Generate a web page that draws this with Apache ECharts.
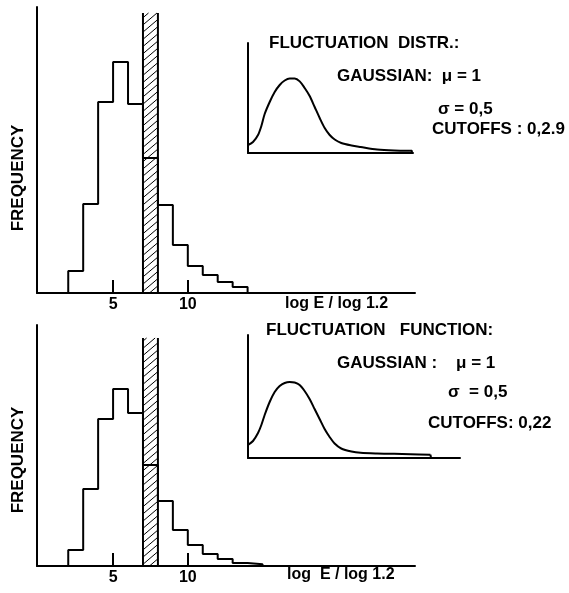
<!DOCTYPE html>
<html>
<head>
<meta charset="utf-8">
<script src="https://cdn.jsdelivr.net/npm/echarts@6/dist/echarts.min.js"></script>
<style>
html,body{margin:0;padding:0;background:#fff;}
#chart{width:569px;height:593px;}
</style>
</head>
<body>
<div id="chart"></div>
<script>
// ---- data ----
// histogram bin edges (log E / log 1.2) and frequencies (arbitrary units)
const binEdgesTop = [2,3,4,5,6,7,8,9,10,11,12,13,14];
const freqTop     = [22,89,191,231,189,135,88,48,27,18,11,6];
const binEdgesBot = [2,3,4,5,6,7,8,9,10,11,12,13,14,15];
const freqBot     = [16,77,147,177,153,101,65,36,21,12,7,3,1.7];
// hatched (excluded) band: [from, to, height]
const bandTop = [7, 8, 280];
const bandBot = [7, 8, 228];
const xTickValues = [5, 10];
// inset fluctuation curves
const insetXTop = [0,0.088,0.176,0.235,0.293,0.381,0.469,0.557,0.645,0.733,0.821,0.909,0.996,1.084,1.172,1.26,1.348,1.436,1.524,1.64,1.82,1.98,2.27,2.57,2.83];
const insetYTop = [8,11,18,27,39,51,61,68,72.5,74.5,74.5,71.6,65,57,46,35,25,18,13.5,10,7.5,6,3.5,2.5,2.3];
const cutoffTop = 2.88;
const insetXBot = [0,0.088,0.176,0.235,0.293,0.381,0.469,0.557,0.645,0.733,0.821,0.909,0.996,1.084,1.172,1.26,1.348,1.436,1.524,1.64,1.82,1.98,2.27,2.57,2.86,3.21];
const insetYBot = [13,17,25,33,43,56,66,72,75,76,75.5,73,67,59,49,39,29,21,14.5,9.5,6.5,5.2,4.5,4.2,3.8,3.3];
const cutoffBot = 3.22;

// ---- helpers ----
function stepData(edges, vals){
  const d = [[edges[0], 0]];
  for (let i = 0; i < vals.length; i++) d.push([edges[i], vals[i]]);
  const last = edges[edges.length-1];
  d.push([last, vals[vals.length-1]]);
  d.push([last, 0]);
  return d;
}
function zip(xs, ys){ return xs.map((x,i)=>[x, ys[i]]); }
function tailDrop(xs, ys, cut){ return [[xs[xs.length-1], ys[ys.length-1]], [cut, ys[ys.length-1]], [cut, 0]]; }

function renderBand(params, api){
  const x0 = api.value(0), x1 = api.value(1), h = api.value(2);
  const tl = api.coord([x0, h]);
  const br = api.coord([x1, 0]);
  const xL = tl[0], xR = br[0], top = tl[1], bottom = br[1];
  const w = xR - xL;
  const dy = w * 0.85;
  const step = 7.2;
  const kids = [];
  const ls = {stroke:'#000', lineWidth:1};
  for (let yb = bottom + dy; yb > top; yb -= step){
    let xs = xL, ys = yb, xe = xR, ye = yb - dy;
    if (ys > bottom){ xs = xL + (ys - bottom) * (w/dy); ys = bottom; }
    if (ye < top){ xe = xL + (yb - top) * (w/dy); ye = top; }
    if (xe - xs < 0.5) continue;
    kids.push({type:'line', shape:{x1:xs,y1:ys,x2:xe,y2:ye}, style:ls});
  }
  const bs = {stroke:'#000', lineWidth:2};
  kids.push({type:'line', shape:{x1:xL,y1:top,x2:xL,y2:bottom}, style:bs});
  kids.push({type:'line', shape:{x1:xR,y1:top,x2:xR,y2:bottom}, style:bs});
  return {type:'group', children:kids};
}

const FONT = "'Liberation Sans', Arial, sans-serif";
const axisLineStyle = {lineStyle:{color:'#000', width:2}};

function mainX(gi){
  return {
    type:'value', gridIndex:gi, min:-0.09, max:25.2,
    axisLine:axisLineStyle,
    axisTick:{show:true, inside:true, length:13, customValues:xTickValues, lineStyle:{color:'#000', width:2}},
    axisLabel:{show:true, customValues:xTickValues, color:'#000', fontSize:16, fontFamily:FONT, fontWeight:'bold', margin:4},
    splitLine:{show:false}
  };
}
function plainY(gi, max){
  return {type:'value', gridIndex:gi, min:0, max:max,
    axisLine:{show:true, onZero:false, lineStyle:{color:'#000', width:2}},
    axisTick:{show:false}, axisLabel:{show:false}, splitLine:{show:false}};
}
function insetX(gi, max){
  return {type:'value', gridIndex:gi, min:0, max:max,
    axisLine:{show:true, lineStyle:{color:'#000', width:2}},
    axisTick:{show:false}, axisLabel:{show:false}, splitLine:{show:false}};
}

function txt(x, y, s, size){
  return {type:'text', x:x, y:y,
    style:{text:s, fill:'#000', font:'bold '+size+'px '+FONT, align:'left', verticalAlign:'middle'}};
}

const chart = echarts.init(document.getElementById('chart'), null, {renderer:'canvas'});
const lineStyleMain = {color:'#000', width:2};
chart.setOption({
  backgroundColor:'#fff',
  animation:false,
  grid:[
    {left:37, top:7, width:378, height:286},
    {left:37, top:325, width:378, height:241},
    {left:248, top:43, width:165, height:110},
    {left:248, top:335, width:212, height:123}
  ],
  xAxis:[ mainX(0), mainX(1), insetX(2, 2.9), insetX(3, 3.73) ],
  yAxis:[ plainY(0, 286), plainY(1, 241), plainY(2, 110), plainY(3, 123) ],
  series:[
    {type:'custom', xAxisIndex:0, yAxisIndex:0, renderItem:renderBand, data:[bandTop], silent:true},
    {type:'custom', xAxisIndex:1, yAxisIndex:1, renderItem:renderBand, data:[bandBot], silent:true},
    {type:'line', xAxisIndex:0, yAxisIndex:0, step:'end', data:stepData(binEdgesTop, freqTop), symbol:'none', lineStyle:lineStyleMain},
    {type:'line', xAxisIndex:1, yAxisIndex:1, step:'end', data:stepData(binEdgesBot, freqBot), symbol:'none', lineStyle:lineStyleMain},
    {type:'line', xAxisIndex:2, yAxisIndex:2, smooth:0.3, data:zip(insetXTop, insetYTop), symbol:'none', lineStyle:lineStyleMain},
    {type:'line', xAxisIndex:2, yAxisIndex:2, data:tailDrop(insetXTop, insetYTop, cutoffTop), symbol:'none', lineStyle:lineStyleMain},
    {type:'line', xAxisIndex:3, yAxisIndex:3, smooth:0.3, data:zip(insetXBot, insetYBot), symbol:'none', lineStyle:lineStyleMain},
    {type:'line', xAxisIndex:3, yAxisIndex:3, data:tailDrop(insetXBot, insetYBot, cutoffBot), symbol:'none', lineStyle:lineStyleMain}
  ],
  graphic:[
    // y axis titles
    {type:'text', x:18, y:178, rotation:Math.PI/2, style:{text:'FREQUENCY', fill:'#000', font:'bold 17px '+FONT, align:'center', verticalAlign:'middle'}},
    {type:'text', x:18, y:460, rotation:Math.PI/2, style:{text:'FREQUENCY', fill:'#000', font:'bold 17px '+FONT, align:'center', verticalAlign:'middle'}},
    // x axis titles
    txt(285, 304, 'log E / log 1.2', 16),
    txt(287, 575, 'log  E / log 1.2', 16),
    // top inset annotation
    txt(269, 43, 'FLUCTUATION  DISTR.:', 17),
    txt(337, 76, 'GAUSSIAN:  \u03bc = 1', 17),
    txt(438, 109, '\u03c3 = 0,5', 17),
    txt(432, 129, 'CUTOFFS : 0,2.9', 17),
    // bottom inset annotation
    txt(266, 330, 'FLUCTUATION   FUNCTION:', 17),
    txt(337, 363, 'GAUSSIAN :    \u03bc = 1', 17),
    txt(448, 392, '\u03c3  = 0,5', 17),
    txt(428, 423, 'CUTOFFS: 0,22', 17)
  ]
});
</script>
</body>
</html>
